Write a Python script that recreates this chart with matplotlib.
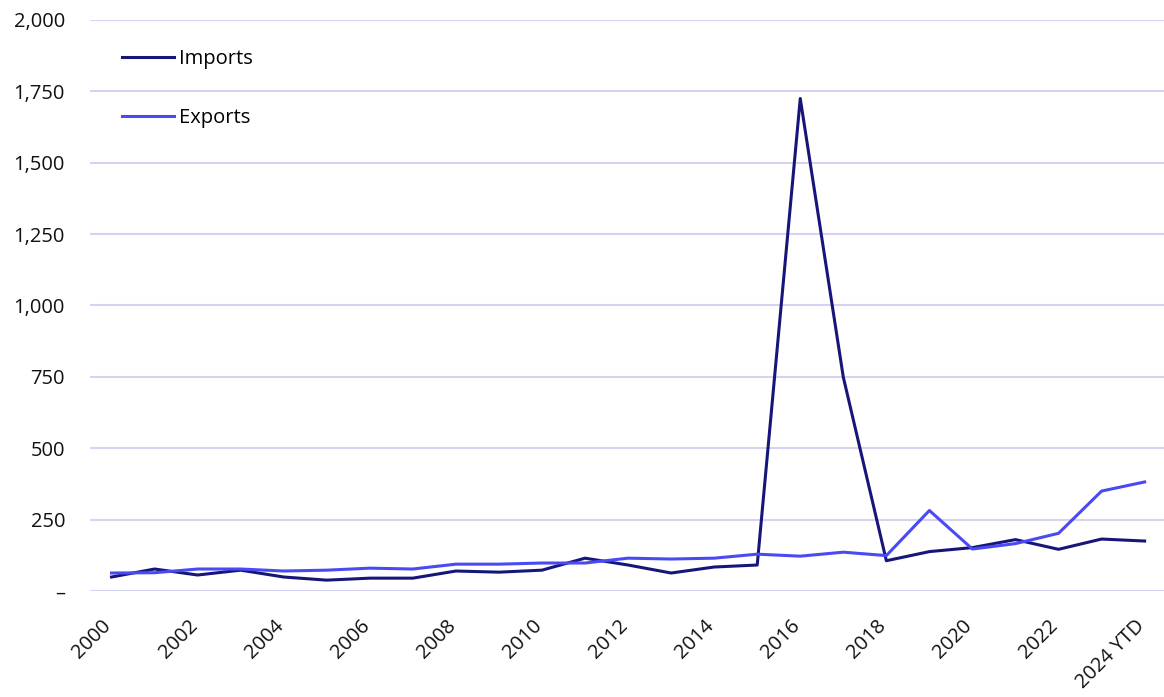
import matplotlib
matplotlib.use("Agg")
import matplotlib.pyplot as plt
import matplotlib.transforms as mtransforms
from matplotlib.ticker import FuncFormatter

plt.rcParams['font.family'] = ['Open Sans', 'DejaVu Sans']

years = ["2000", "2001", "2002", "2003", "2004", "2005", "2006", "2007", "2008", "2009",
         "2010", "2011", "2012", "2013", "2014", "2015", "2016", "2017", "2018", "2019",
         "2020", "2021", "2022", "2023", "2024 YTD"]
imports = [49, 77, 56, 73, 49, 38, 45, 45, 70, 66, 73, 115, 91, 63, 84, 91,
           1725, 749, 106, 138, 152, 180, 146, 182, 175]
exports = [63, 64, 77, 77, 70, 73, 80, 77, 94, 94, 98, 98, 115, 112, 115, 129,
           122, 136, 124, 282, 147, 166, 202, 350, 382]
yticks = [0, 250, 500, 750, 1000, 1250, 1500, 1750, 2000]

fig = plt.figure(figsize=(11.64, 6.97), dpi=100)
ax = fig.add_axes([90/1164, 1-591/697, 1-90/1164, (591-20)/697])

x = list(range(len(years)))
ax.plot(x, imports, color='#16167a', lw=2.2, label='Imports', zorder=3)
ax.plot(x, exports, color='#4a4af5', lw=2.2, label='Exports', zorder=3)

ax.set_ylim(0, 2000)
ax.set_xlim(-0.5, 24.45)
ax.set_yticks(yticks)
ax.yaxis.set_major_formatter(FuncFormatter(lambda v, p: '–' if v == 0 else f'{int(v):,}'))
ax.grid(axis='y', color='#d4d4f2', lw=1.5)
ax.set_axisbelow(True)
for s in ax.spines.values():
    s.set_visible(False)
ax.tick_params(axis='both', length=0, labelsize=14.5, colors='#111111')
ax.tick_params(axis='y', pad=18)
ax.tick_params(axis='x', pad=18)

ax.set_xticks(x[::2])
ax.set_xticklabels(years[::2], rotation=45, ha='right', va='top')
offset = mtransforms.ScaledTranslation(0.04, 0.0, fig.dpi_scale_trans)
for lab in ax.get_xticklabels():
    lab.set_transform(lab.get_transform() + offset)

leg = ax.legend(loc='upper left', bbox_to_anchor=(0.0125, 0.981), frameon=False,
                fontsize=14.5, labelspacing=1.95, handlelength=2.6, handletextpad=0.25)

fig.savefig('out.png', dpi=100)
